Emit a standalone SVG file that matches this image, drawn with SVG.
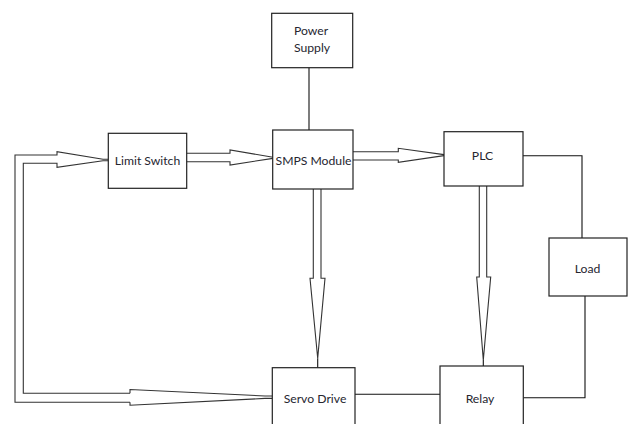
<svg xmlns="http://www.w3.org/2000/svg" width="629" height="424" viewBox="0 0 629 424">
<style>
.box{fill:#fff;stroke:#222;stroke-width:1.2}
.lbl{font-family:Lato,"Liberation Sans",sans-serif;font-size:12.2px;fill:#262630;text-anchor:middle}
.ln{fill:none;stroke:#111;stroke-width:1.1}
.ar{fill:none;stroke:#333;stroke-width:1.1;stroke-linejoin:miter}
</style>
<rect width="629" height="424" fill="#fff"/>
<g id="connectors">
  <path class="ln" d="M309,67.7 V130"/>
  <path class="ln" d="M523,155.7 H582 V238"/>
  <path class="ln" d="M585,296 V397.7 H523.3"/>
  <path class="ln" d="M355,394.3 H440"/>
  <path class="ar" d="M130,402.3 H15 V155 H57 V151.7 L103,159.3 H108.3"/>
  <path class="ar" d="M130,393.3 H23.3 V163.3 H57 V167.3 L103,160.7 H108.3"/>
  <path class="ar" d="M130,393.3 V389.5 L265,396 H272.3"/>
  <path class="ar" d="M130,402.3 V405.2 L265,398.4 H272.3"/>
  <path class="ar" d="M186.7,153.3 H230 V150 L273,157.2"/>
  <path class="ar" d="M186.7,161.7 H230 V165 L273,158.4"/>
  <path class="ar" d="M353,151.7 H398.3 V148.3 L444,154.6"/>
  <path class="ar" d="M353,160 H398.3 V162.3 L444,155.6"/>
  <path class="ar" d="M313.3,189 V278.3 H310 L317.7,358.3 L325,278.3 H321 V189"/>
  <path class="ln" d="M317.7,358.3 V367.7"/>
  <path class="ar" d="M479.3,186 V277 H476.7 L483.3,360 L490.7,277 H486.7 V186"/>
  <path class="ln" d="M483.3,360 V366"/>
</g>
<g id="power-supply">
  <rect class="box" x="271.7" y="13.3" width="81" height="54.4"/>
  <text class="lbl" x="311" y="35">Power</text>
  <text class="lbl" x="312" y="51.5">Supply</text>
</g>
<g id="limit-switch">
  <rect class="box" x="108.3" y="133.3" width="78.4" height="55"/>
  <text class="lbl" x="147.5" y="165">Limit Switch</text>
</g>
<g id="smps-module">
  <rect class="box" x="272.7" y="130" width="80.3" height="59"/>
  <text class="lbl" x="313.5" y="165">SMPS Module</text>
</g>
<g id="plc">
  <rect class="box" x="444" y="131.7" width="79" height="54.3"/>
  <text class="lbl" x="482.5" y="160">PLC</text>
</g>
<g id="load">
  <rect class="box" x="549" y="238" width="78" height="58"/>
  <text class="lbl" x="587.5" y="273">Load</text>
</g>
<g id="servo-drive">
  <rect class="box" x="272.3" y="367.7" width="82.7" height="70"/>
  <text class="lbl" x="315" y="403">Servo Drive</text>
</g>
<g id="relay">
  <rect class="box" x="440" y="366" width="83.3" height="72"/>
  <text class="lbl" x="480" y="403">Relay</text>
</g>
</svg>
